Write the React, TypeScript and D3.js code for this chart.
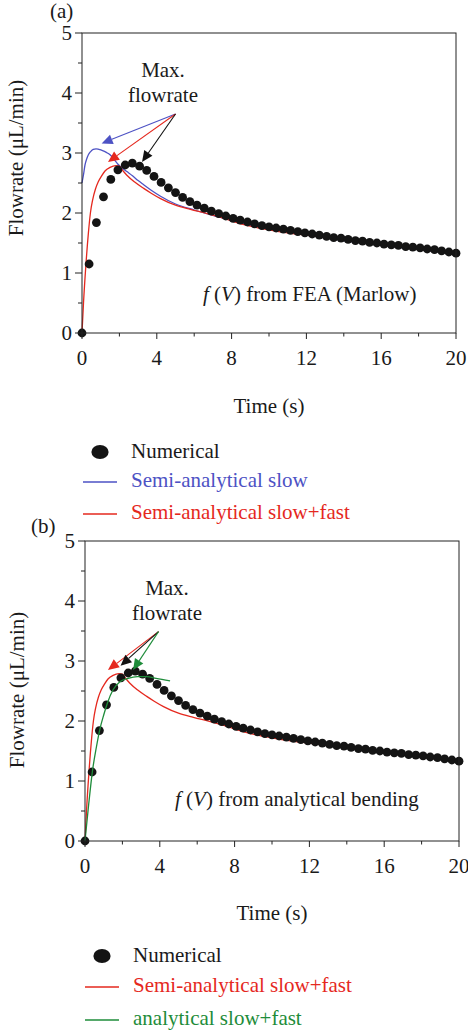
import React from "react";
import * as d3 from "d3";

// ---------- data ----------
const numT = [0, 0.38, 0.77, 1.15, 1.54, 1.92, 2.31, 2.69, 3.08, 3.46, 3.85, 4.23, 4.62, 5.0, 5.38, 5.77, 6.15, 6.54, 6.92, 7.31, 7.69, 8.08, 8.46, 8.85, 9.23, 9.62, 10.0, 10.38, 10.77, 11.15, 11.54, 11.92, 12.31, 12.69, 13.08, 13.46, 13.85, 14.23, 14.62, 15.0, 15.38, 15.77, 16.15, 16.54, 16.92, 17.31, 17.69, 18.08, 18.46, 18.85, 19.23, 19.62, 20.0];
const numY = [0, 1.15, 1.84, 2.27, 2.56, 2.72, 2.8, 2.83, 2.78, 2.71, 2.61, 2.51, 2.42, 2.34, 2.26, 2.19, 2.13, 2.08, 2.03, 1.99, 1.95, 1.91, 1.88, 1.85, 1.82, 1.79, 1.77, 1.75, 1.73, 1.71, 1.69, 1.67, 1.65, 1.63, 1.61, 1.59, 1.58, 1.56, 1.54, 1.53, 1.51, 1.5, 1.48, 1.47, 1.46, 1.44, 1.43, 1.42, 1.4, 1.39, 1.37, 1.35, 1.33];

const slowT = [0, 0.08, 0.16, 0.25, 0.34, 0.45, 0.6, 0.75, 0.9, 1.1, 1.3, 1.5, 1.7, 1.9, 2.1, 2.4, 2.7, 3.0, 3.3, 3.7, 4.2, 5.0, 6.0, 7.0, 8.0, 9.0, 10, 12, 14, 16, 18, 20];
const slowY = [2.5, 2.64, 2.8, 2.9, 2.97, 3.02, 3.06, 3.07, 3.06, 3.04, 3.01, 2.97, 2.9, 2.82, 2.76, 2.69, 2.62, 2.54, 2.47, 2.38, 2.28, 2.15, 2.05, 1.96, 1.88, 1.8, 1.74, 1.63, 1.54, 1.46, 1.39, 1.32];

const fastT = [0, 0.08, 0.21, 0.34, 0.45, 0.57, 0.72, 0.87, 1.05, 1.23, 1.5, 1.8, 2.0, 2.2, 2.4, 2.8, 3.3, 3.7, 4.2, 5.0, 5.8, 6.7, 7.6, 8.5, 9.3, 10, 11, 12, 13, 14, 15, 16, 17, 18, 19, 20];
const fastY = [0, 0.5, 1.14, 1.66, 2.0, 2.22, 2.4, 2.52, 2.62, 2.7, 2.76, 2.79, 2.78, 2.7, 2.63, 2.52, 2.41, 2.33, 2.24, 2.13, 2.06, 1.99, 1.91, 1.82, 1.76, 1.72, 1.67, 1.63, 1.59, 1.55, 1.51, 1.47, 1.43, 1.4, 1.36, 1.32];

const anaT = [0, 0.2, 0.4, 0.6, 0.8, 1.0, 1.2, 1.5, 1.85, 2.3, 2.8, 3.3, 3.8, 4.55];
const anaY = [0, 0.62, 1.17, 1.55, 1.87, 2.1, 2.3, 2.52, 2.65, 2.71, 2.74, 2.74, 2.71, 2.67];

const xTicks = [0, 4, 8, 12, 16, 20];
const xMinor = [2, 6, 10, 14, 18];
const yTicks = [0, 1, 2, 3, 4, 5];
const yMinor = [0.5, 1.5, 2.5, 3.5, 4.5];

// annotation arrows in data units
const arrowsA = [
  { from: [5.0, 3.65], to: [1.05, 3.16], color: "blue" },
  { from: [5.0, 3.65], to: [1.39, 2.85], color: "red" },
  { from: [5.0, 3.65], to: [3.21, 2.85], color: "black" },
];
const arrowsB = [
  { from: [3.93, 3.49], to: [1.23, 2.85], color: "red" },
  { from: [3.93, 3.49], to: [1.9, 2.92], color: "black" },
  { from: [3.93, 3.49], to: [2.57, 2.85], color: "green" },
];

const COLORS: Record<string, string> = {
  blue: "#4d52c4",
  red: "#e5281e",
  green: "#1e8c3a",
  black: "#111111",
};

const FONT = "Liberation Serif, DejaVu Serif, serif";
const FS = 21;

type Box = { left: number; right: number; top: number; bottom: number };

function Arrow({ x1, y1, x2, y2, color }: { x1: number; y1: number; x2: number; y2: number; color: string }) {
  const ang = Math.atan2(y2 - y1, x2 - x1);
  const L = 11;
  const hw = 5;
  const bx = x2 - L * Math.cos(ang);
  const by = y2 - L * Math.sin(ang);
  const px = -Math.sin(ang) * hw;
  const py = Math.cos(ang) * hw;
  return (
    <g>
      <line x1={x1} y1={y1} x2={bx} y2={by} stroke={color} strokeWidth={1.1} />
      <polygon points={`${x2},${y2} ${bx + px},${by + py} ${bx - px},${by - py}`} fill={color} />
    </g>
  );
}

function Panel({
  box,
  lines,
  arrows,
  label,
  labelPos,
  ylabelPos,
  xlabelY,
  maxPos,
  note,
  notePos,
}: {
  box: Box;
  lines: { t: number[]; y: number[]; color: string; top?: boolean }[];
  arrows: { from: number[]; to: number[]; color: string }[];
  label: string;
  labelPos: [number, number];
  ylabelPos: [number, number];
  xlabelY: number;
  maxPos: [number, number];
  note: string;
  notePos: [number, number];
}) {
  const x = d3.scaleLinear().domain([0, 20]).range([box.left, box.right]);
  const y = d3.scaleLinear().domain([0, 5]).range([box.bottom, box.top]);
  const line = d3
    .line<[number, number]>()
    .x((d) => x(d[0]))
    .y((d) => y(d[1]))
    .curve(d3.curveMonotoneX);
  const mk = (l: { t: number[]; y: number[]; color: string }) => (
    <path
      d={line(l.t.map((t, i) => [t, l.y[i]] as [number, number])) || ""}
      fill="none"
      stroke={COLORS[l.color]}
      strokeWidth={1.3}
    />
  );
  return (
    <g style={{ fontFamily: FONT }} fontSize={FS} fill="#1a1a1a">
      {lines.filter((l) => !l.top).map((l, i) => <g key={i}>{mk(l)}</g>)}
      {numT.map((t, i) => (
        <circle key={i} cx={x(t)} cy={y(numY[i])} r={4.4} fill="#141414" />
      ))}
      {lines.filter((l) => l.top).map((l, i) => <g key={i}>{mk(l)}</g>)}
      {arrows.map((a, i) => (
        <Arrow key={i} x1={x(a.from[0])} y1={y(a.from[1])} x2={x(a.to[0])} y2={y(a.to[1])} color={COLORS[a.color]} />
      ))}
      <rect x={box.left} y={box.top} width={box.right - box.left} height={box.bottom - box.top} fill="none" stroke="#222" strokeWidth={1} />
      {xTicks.map((t) => (
        <g key={t}>
          <line x1={x(t)} x2={x(t)} y1={box.bottom} y2={box.bottom + 6} stroke="#222" />
          <text x={x(t)} y={box.bottom + 32} textAnchor="middle">{t}</text>
        </g>
      ))}
      {xMinor.map((t) => (
        <line key={t} x1={x(t)} x2={x(t)} y1={box.bottom} y2={box.bottom + 3.5} stroke="#222" />
      ))}
      {yTicks.map((v) => (
        <g key={v}>
          <line x1={box.left - 7} x2={box.left} y1={y(v)} y2={y(v)} stroke="#222" />
          <text x={box.left - 10} y={y(v) + 7} textAnchor="end">{v}</text>
        </g>
      ))}
      {yMinor.map((v) => (
        <line key={v} x1={box.left - 4} x2={box.left} y1={y(v)} y2={y(v)} stroke="#222" />
      ))}
      <text x={labelPos[0]} y={labelPos[1]}>{label}</text>
      <text transform={`translate(${ylabelPos[0]},${ylabelPos[1]}) rotate(-90)`} textAnchor="middle">
        Flowrate (μL/min)
      </text>
      <text x={(box.left + box.right) / 2} y={xlabelY} textAnchor="middle">Time (s)</text>
      <text x={maxPos[0]} y={maxPos[1]} textAnchor="middle">Max.</text>
      <text x={maxPos[0]} y={maxPos[1] + 25} textAnchor="middle">flowrate</text>
      <text x={notePos[0]} y={notePos[1]}>
        <tspan fontStyle="italic">f</tspan>
        {" ("}
        <tspan fontStyle="italic">V</tspan>
        {") " + note}
      </text>
    </g>
  );
}

function Legend({
  x0,
  markerY,
  items,
}: {
  x0: number;
  markerY: number;
  items: { label: string; color: string; y: number }[];
}) {
  return (
    <g style={{ fontFamily: FONT }} fontSize={FS}>
      <ellipse cx={x0 + 17} cy={markerY} rx={8.6} ry={6.9} fill="#141414" />
      <text x={x0 + 48} y={markerY + 6} fill="#1a1a1a">Numerical</text>
      {items.map((it, i) => (
        <g key={i}>
          <line x1={x0} x2={x0 + 34} y1={it.y} y2={it.y} stroke={COLORS[it.color]} strokeWidth={1.3} />
          <text x={x0 + 48} y={it.y + 5} fill={COLORS[it.color]}>{it.label}</text>
        </g>
      ))}
    </g>
  );
}

export default function App() {
  return (
    <svg width={468} height={1033} style={{ position: "absolute", left: 0, top: 0, background: "#fff", fontFamily: FONT }}>
      <rect width={468} height={1033} fill="#fff" />
      <Panel
        box={{ left: 82, right: 456, top: 33, bottom: 333 }}
        lines={[
          { t: slowT, y: slowY, color: "blue" },
          { t: fastT, y: fastY, color: "red" },
        ]}
        arrows={arrowsA}
        label="(a)"
        labelPos={[50, 18]}
        ylabelPos={[23, 158]}
        xlabelY={413}
        maxPos={[163, 77]}
        note="from FEA (Marlow)"
        notePos={[203, 301]}
      />
      <Legend
        x0={83}
        markerY={452}
        items={[
          { label: "Semi-analytical slow", color: "blue", y: 482 },
          { label: "Semi-analytical slow+fast", color: "red", y: 514 },
        ]}
      />
      <Panel
        box={{ left: 85, right: 459, top: 541, bottom: 841 }}
        lines={[
          { t: fastT, y: fastY, color: "red" },
          { t: anaT, y: anaY, color: "green", top: true },
        ]}
        arrows={arrowsB}
        label="(b)"
        labelPos={[31, 533]}
        ylabelPos={[24, 690]}
        xlabelY={920}
        maxPos={[167, 595]}
        note="from analytical bending"
        notePos={[175, 806]}
      />
      <Legend
        x0={85}
        markerY={956}
        items={[
          { label: "Semi-analytical slow+fast", color: "red", y: 987 },
          { label: "analytical slow+fast", color: "green", y: 1020 },
        ]}
      />
    </svg>
  );
}
